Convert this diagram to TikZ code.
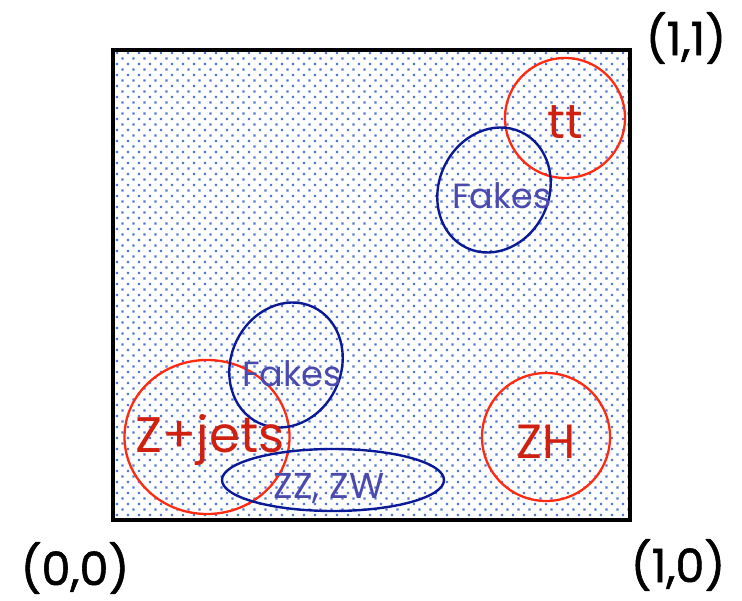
\documentclass[tikz,border=0pt]{standalone}
\usepackage{fontspec}
\usetikzlibrary{shapes.geometric}
\setmainfont{Poppins}
\newfontfamily\cornerfont{Poppins}[FakeBold=1.2]
\definecolor{dotc}{HTML}{5479D0}
\definecolor{redc}{HTML}{FF2A10}
\definecolor{redt}{HTML}{D02010}
\definecolor{navy}{HTML}{0A1A96}
\definecolor{bluet}{HTML}{4A4AAE}
\tikzset{
  redring/.style={draw=redc, line width=2.3pt},
  bluering/.style={draw=navy, line width=2.4pt},
  redtext/.style={text=redt, inner sep=0pt},
  bluetext/.style={text=bluet, inner sep=0pt},
  corner/.style={text=black, inner sep=0pt, font=\cornerfont\fontsize{46}{46}\selectfont}
}
\begin{document}
\begin{tikzpicture}[x=1pt,y=-1pt]
\useasboundingbox (0,0) rectangle (742,601);
% dotted background
\fill[dotc] \foreach \r in {0,...,84} {
  \foreach \c in {0,...,46} {
    ({117+11*\c+mod(\r,2)*5.5-1.2},{53+5.5*\r-1.2}) rectangle ++(2.4,2.4)
  }
};
\coordinate (bl) at (113,520);
\coordinate (tr) at (630,50);
\draw[line width=4pt] (bl) rectangle (tr);
% circles
\node[redring, circle, minimum size=120pt] (tt) at (565,118) {};
\node[redring, ellipse, minimum width=165pt, minimum height=154pt] (zj) at (207,437) {};
\node[redring, circle, minimum size=128pt] (zh) at (546,437) {};
\draw[bluering, rotate around={-25:(494,190)}] (494,190) ellipse (55 and 64);
\draw[bluering, rotate around={-25:(286,365)}] (286,365) ellipse (55 and 64);
\draw[bluering] (333,480) ellipse (111 and 31);
% texts
\node[redtext, font=\fontsize{48}{48}\selectfont] (ttl) at (565,122) {tt};
\node[redtext, font=\fontsize{50}{50}\selectfont] (zjl) at (210,440) {Z+jets};
\node[redtext, font=\fontsize{48}{48}\selectfont] (zhl) at (546,442) {ZH};
\node[bluetext, font=\fontsize{35}{35}\selectfont] (f1) at (502,196) {Fakes};
\node[bluetext, font=\fontsize{35}{35}\selectfont] (f2) at (292,374) {Fakes};
\node[bluetext, font=\fontsize{36}{36}\selectfont] (zz) at (329,489) {ZZ, ZW};
\node[corner] (c11) at (686,38) {(1,1)};
\node[corner] (c00) at (75,568) {(0,0)};
\node[corner] (c10) at (678,565) {(1,0)};
\end{tikzpicture}
\end{document}
